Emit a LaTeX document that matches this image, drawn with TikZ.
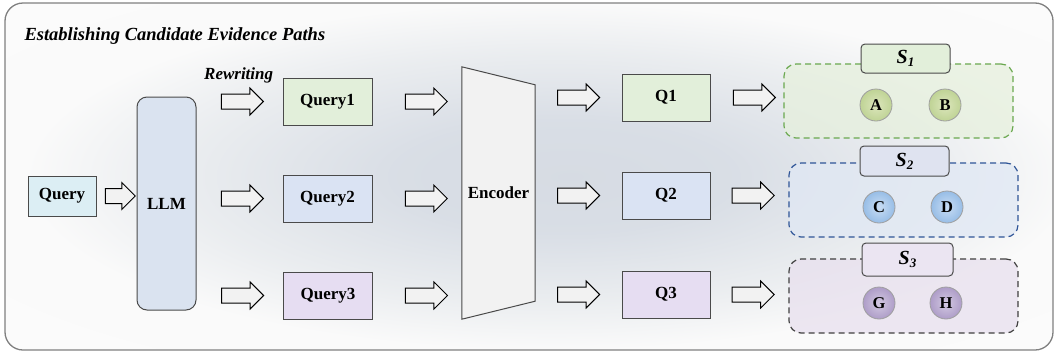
\documentclass[tikz,border=0pt]{standalone}
\usepackage{fontspec}
\setmainfont{Liberation Serif}
\usetikzlibrary{shapes.arrows,calc}

\definecolor{frameline}{HTML}{808080}
\definecolor{boxline}{HTML}{4A4A4A}
\definecolor{arrowfill}{HTML}{F2F2F2}
\definecolor{queryfill}{HTML}{DCEEF4}
\definecolor{llmfill}{HTML}{DAE3F0}
\definecolor{greenfill}{HTML}{E2EFDA}
\definecolor{bluefill}{HTML}{DAE3F3}
\definecolor{purplefill}{HTML}{E6DDF2}
\definecolor{encfill}{HTML}{F2F2F2}
\definecolor{greendash}{HTML}{6AA84F}
\definecolor{bluedash}{HTML}{2F5597}
\definecolor{graydash}{HTML}{404040}
\definecolor{greenarea}{HTML}{E6F0DD}
\definecolor{bluearea}{HTML}{E0E8F4}
\definecolor{purplearea}{HTML}{E8E0EE}
\definecolor{greentag}{HTML}{E2EFDA}
\definecolor{bluetag}{HTML}{DFE3F0}
\definecolor{purpletag}{HTML}{EBE5F2}
\definecolor{greenin}{HTML}{DCE6BC}
\definecolor{greenout}{HTML}{BFD395}
\definecolor{bluein}{HTML}{C9DDF4}
\definecolor{blueout}{HTML}{97BDE6}
\definecolor{purplein}{HTML}{D3C9E2}
\definecolor{purpleout}{HTML}{AE9DC8}

% soft grey glow behind the whole panel
\pgfdeclareradialshading{panelglow}{\pgfpoint{2bp}{0bp}}{%
  rgb(0bp)=(0.84,0.86,0.89); rgb(8bp)=(0.85,0.87,0.90);
  rgb(18bp)=(0.92,0.93,0.94); rgb(25bp)=(0.98,0.98,0.98);
  rgb(50bp)=(0.99,0.99,0.99)}

\tikzset{
  lbl/.style={font=\fontsize{17}{20}\selectfont\bfseries, text=black},
  box/.style={draw=boxline, line width=1pt, lbl, inner sep=0},
  barrow/.style={single arrow, draw=black, fill=arrowfill, line width=1pt,
    minimum height=42, inner xsep=0, inner ysep=7pt,
    single arrow head extend=6},
  group/.style={rounded corners=12, line width=1.2pt, dash pattern=on 6pt off 4pt},
  tag/.style={draw=boxline, line width=1pt, rounded corners=4, inner sep=0,
    font=\fontsize{20}{22}\selectfont\bfseries\itshape},
  ball/.style={circle, draw=gray!75, line width=0.8pt, minimum size=32,
    inner sep=0, font=\fontsize{16.5}{17}\selectfont\bfseries},
}

\newcommand{\tagtext}[1]{S\raisebox{-0.35ex}{\fontsize{13}{14}\selectfont #1}}

\begin{document}
\begin{tikzpicture}[x=1pt,y=-1pt]
\useasboundingbox (0,0) rectangle (1056,354);

% outer panel
\draw[rounded corners=18, line width=1.3pt, draw=frameline, shading=panelglow]
  (5,3) rectangle (1053,350);

\node[anchor=base west, font=\fontsize{18.5}{20}\selectfont\bfseries\itshape]
  (title) at (21,40) {Establishing Candidate Evidence Paths};

% input query and LLM
\node[box, fill=queryfill, minimum width=68, minimum height=40] (q) at (62,196) {Query};
\node[box, fill=llmfill, rounded corners=10, minimum width=59, minimum height=213] (llm) at (166.5,203.5) {LLM};

% rewritten queries
\node[box, fill=greenfill,  minimum width=89, minimum height=47] (qa) at (327.5,101.5) {Query1};
\node[box, fill=bluefill,   minimum width=89, minimum height=47] (qb) at (327.5,198.5) {Query2};
\node[box, fill=purplefill, minimum width=89, minimum height=47] (qc) at (328,295.5) {Query3};

% encoder
\node[inner sep=0, minimum width=73, minimum height=252] (enc) at (498.5,193) {};
\draw[draw=boxline, line width=1pt, fill=encfill]
  (enc.north west) -- ($(enc.north east)+(0,18)$) -- ($(enc.south east)+(0,-18)$)
  -- (enc.south west) -- cycle;
\node[lbl] (enclbl) at (enc.center) {Encoder};

% encoded queries
\node[box, fill=greenfill,  minimum width=88, minimum height=47] (ka) at (666,97.5) {Q1};
\node[box, fill=bluefill,   minimum width=88, minimum height=47] (kb) at (666,195.5) {Q2};
\node[box, fill=purplefill, minimum width=88, minimum height=47] (kc) at (666,294.5) {Q3};

% candidate evidence sets
\node[group, draw=greendash, fill=greenarea, fill opacity=0.75, draw opacity=1,
  minimum width=229, minimum height=74] (sa) at (898.5,101) {};
\node[group, draw=bluedash, fill=bluearea, fill opacity=0.75, draw opacity=1,
  minimum width=229, minimum height=74] (sb) at (903.5,200) {};
\node[group, draw=graydash, fill=purplearea, fill opacity=0.75, draw opacity=1,
  minimum width=229, minimum height=74] (sc) at (903.5,296) {};

\node[tag, fill=greentag,  minimum width=89, minimum height=29] (ta) at (905.5,58.5) {\tagtext{1}};
\node[tag, fill=bluetag,   minimum width=89, minimum height=30] (tb) at (904.5,161) {\tagtext{2}};
\node[tag, fill=purpletag, minimum width=91, minimum height=33] (tc) at (907.5,259.5) {\tagtext{3}};

\node[ball, inner color=greenin, outer color=greenout] (A) at (876,105) {A};
\node[ball, inner color=greenin, outer color=greenout] (B) at (945,105) {B};
\node[ball, inner color=bluein, outer color=blueout] (C) at (879,207) {C};
\node[ball, inner color=bluein, outer color=blueout] (D) at (947,207) {D};
\node[ball, inner color=purplein, outer color=purpleout] (G) at (879,303) {G};
\node[ball, inner color=purplein, outer color=purpleout] (H) at (946,303) {H};

% block arrows
\path (q.east) -- (llm.west |- q.east)
  node[barrow, midway, minimum height=30] (ar0) {};

\path (llm.east |- qa.west) -- (qa.west) node[barrow, pos=0.49] (ar1) {};
\path (llm.east |- qb.west) -- (qb.west) node[barrow, pos=0.49] (ar2) {};
\path (llm.east |- qc.west) -- (qc.west) node[barrow, pos=0.49] (ar3) {};

\path (qa.east) -- (enc.west |- qa.east) node[barrow, pos=0.56] (ar4) {};
\path (qb.east) -- (enc.west |- qb.east) node[barrow, pos=0.56] (ar5) {};
\path (qc.east) -- (enc.west |- qc.east) node[barrow, pos=0.56] (ar6) {};

\path (enc.east |- ka.west) -- (ka.west) node[barrow, pos=0.46] (ar7) {};
\path (enc.east |- kb.west) -- (kb.west) node[barrow, pos=0.46] (ar8) {};
\path (enc.east |- kc.west) -- (kc.west) node[barrow, pos=0.46] (ar9) {};

\path (ka.east) -- (sa.west |- ka.east) node[barrow, pos=0.55] (ar10) {};
\path (kb.east) -- (sb.west |- kb.east) node[barrow, pos=0.5] (ar11) {};
\path (kc.east) -- (sc.west |- kc.east) node[barrow, pos=0.5] (ar12) {};

\node[anchor=base, font=\fontsize{17}{20}\selectfont\bfseries\itshape]
  (rew) at (ar1.center |- 0,79) {Rewriting};
\end{tikzpicture}
\end{document}
